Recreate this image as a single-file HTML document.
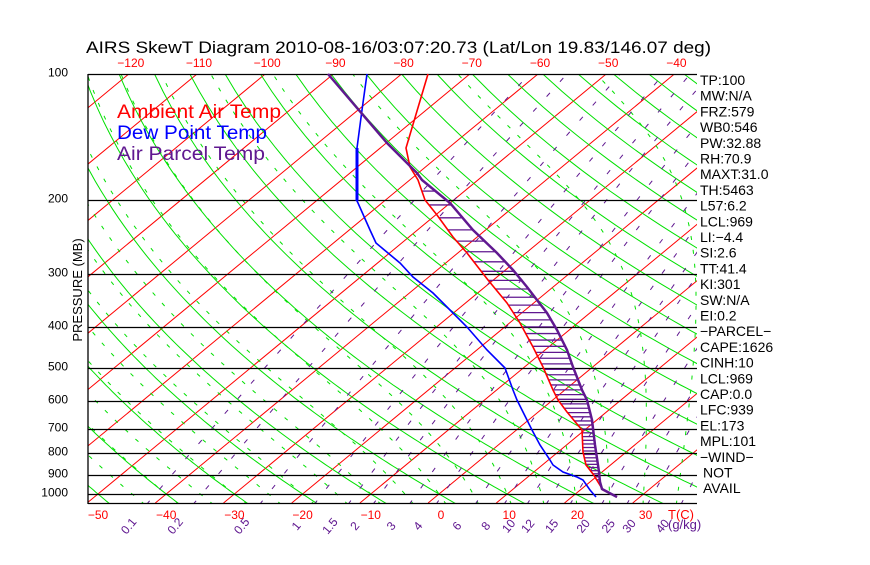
<!DOCTYPE html>
<html><head><meta charset="utf-8"><style>
html,body{margin:0;padding:0;background:#fff;}
svg text{font-family:"Liberation Sans",sans-serif;}
</style></head><body>
<svg id="s" width="870" height="560" xmlns="http://www.w3.org/2000/svg">
<defs><clipPath id="c"><rect x="88" y="74" width="609" height="429"/></clipPath></defs>
<g id="grid" clip-path="url(#c)"></g>
<g id="main"></g>
<text x="86" y="53" font-size="17" textLength="625" lengthAdjust="spacingAndGlyphs">AIRS SkewT Diagram 2010-08-16/03:07:20.73 (Lat/Lon 19.83/146.07 deg)</text>
<text x="117" y="118" font-size="19" fill="#ff0000" textLength="164" lengthAdjust="spacingAndGlyphs">Ambient Air Temp</text>
<text x="117" y="139" font-size="19" fill="#0000ff" textLength="150" lengthAdjust="spacingAndGlyphs">Dew Point Temp</text>
<text x="117" y="160" font-size="19" fill="#601890" textLength="148" lengthAdjust="spacingAndGlyphs">Air Parcel Temp</text>
<text transform="translate(82,290) rotate(-90)" font-size="13" text-anchor="middle">PRESSURE (MB)</text>
</svg>
<script>
var NS="http://www.w3.org/2000/svg";
var grid=document.getElementById('grid'),main=document.getElementById('main');
function el(p,tag,a,txt){var e=document.createElementNS(NS,tag);for(var k in a)e.setAttribute(k,a[k]);if(txt!==undefined)e.textContent=txt;p.appendChild(e);return e;}
function Y(p){return 494-182.4*Math.log(1000/p);}
function X(T,y){return 439+6.82*T+1.21*(494-y);}
var pts=function(a){return a.map(function(q){return q[0].toFixed(1)+','+q[1].toFixed(1)}).join(' ');};
for(var T=-140;T<=50;T+=10){el(grid,'line',{x1:X(T,503),y1:503,x2:X(T,74),y2:74,stroke:'#ff0000','stroke-width':1});}
for(var th=-60;th<=200;th+=10){var a=[];for(var p=1060;p>=95;p-=10){var Tk=(th+273.15)*Math.pow(p/1000,0.286);a.push([X(Tk-273.15,Y(p)),Y(p)]);}
el(grid,'polyline',{points:pts(a),fill:'none',stroke:'#00e000','stroke-width':1});}
function es(Tc){return 6.112*Math.exp(17.67*Tc/(Tc+243.5));}
for(var t0=-45;t0<=45;t0+=5){var Tk=t0+273.15,p=1000,a=[],b=[];
 var step=function(dir){var Tc=Tk-273.15;var rs=0.622*es(Tc)/(p-es(Tc));var num=287*Tk+2.5e6*rs;var den=1005+2.5e6*2.5e6*rs*0.622/(287*Tk*Tk);var dT=num/den;var dp=dir*2;Tk+=dT*dp/p;p+=dp;};
 var Tk0=Tk;
 while(p<1060){step(1);} b.push([X(Tk-273.15,Y(p)),Y(p)]);
 Tk=Tk0;p=1000;
 a.push([X(Tk-273.15,Y(p)),Y(p)]);
 while(p>100){step(-1);if(Math.round(p)%10==0)a.push([X(Tk-273.15,Y(p)),Y(p)]);}
 el(grid,'polyline',{points:pts(b.concat(a)),fill:'none',stroke:'#00e000','stroke-width':1,'stroke-dasharray':'4 10'});}
var ws=[0.1,0.2,0.5,1,1.5,2,3,4,6,8,10,12,15,20,25,30,40];
function Td(w,p){var e=w*p/(622+w);var l=Math.log(e/6.112);return 243.5*l/(17.67-l);}
ws.forEach(function(w){var a=[];for(var p=1060;p>=95;p-=20){a.push([X(Td(w,p),Y(p)),Y(p)]);}
 el(grid,'polyline',{points:pts(a),fill:'none',stroke:'#601890','stroke-width':1,'stroke-dasharray':'5 15'});
 var lx=X(Td(w,1050),503)-19;
 el(main,'text',{x:lx,y:530,'font-size':12,fill:'#601890','text-anchor':'middle',transform:'rotate(-50 '+lx+' 526)'},String(w));
});
el(main,'text',{x:668,y:529,'font-size':13,fill:'#601890'},'(g/kg)');
[100,200,300,400,500,600,700,800,900,1000].forEach(function(p){var y=Math.round(Y(p))+0.5;
 el(main,'line',{x1:88,y1:y,x2:697,y2:y,stroke:'#000','stroke-width':1.3});
 el(main,'text',{x:68,y:y+2,'font-size':12,'text-anchor':'end'},String(p));});
el(main,'line',{x1:88,y1:503.5,x2:697,y2:503.5,stroke:'#000','stroke-width':1.3});
el(main,'line',{x1:88,y1:74,x2:88,y2:504,stroke:'#000','stroke-width':1.3});
for(var T=-120;T<=-40;T+=10)el(main,'text',{x:X(T,74)+2,y:67,'font-size':12,fill:'#ff0000','text-anchor':'middle'},String(T).replace('-','\u2212'));
for(var T=-50;T<=30;T+=10)el(main,'text',{x:X(T,494)+(T<0?0:2),y:519,'font-size':12,fill:'#ff0000','text-anchor':'middle'},String(T).replace('-','\u2212'));
el(main,'text',{x:668,y:519,'font-size':13,fill:'#ff0000'},'T(C)');
var red=[[428,74],[406,148],[410,167],[418,180],[425,200],[437,215],[453,237],[467,253],[488,280],[507,303],[520,323],[533,347],[543,367],[553,390],[558,400],[567,412],[582,430],[583,452],[586,465],[593,474],[603,490],[617,497]];
var blue=[[367,74],[362,110],[357,148],[357,201],[358,203],[370,230],[376,243],[400,263],[413,277],[433,293],[453,313],[467,327],[487,350],[505,368],[513,390],[517,400],[527,420],[532,430],[540,445],[550,460],[553,465],[563,472],[577,477],[583,480],[590,490],[596,497]];
var pur=[[328,74],[387,143],[417,173],[422,180],[450,203],[473,230],[497,253],[513,270],[527,287],[537,300],[547,313],[557,330],[567,350],[573,367],[582,390],[587,400],[592,420],[595,445],[598,465],[599,472],[600,482],[602,489],[617,497]];
function ix(a,y){for(var i=0;i<a.length-1;i++){if(y>=a[i][1]&&y<=a[i+1][1]){var f=(y-a[i][1])/((a[i+1][1]-a[i][1])||1);return a[i][0]+f*(a[i+1][0]-a[i][0]);}}return null;}
for(var p=190;p<=965;p+=15){var y=Y(p);var xr=ix(red,y),xp=ix(pur,y);if(xr!==null&&xp!==null&&xp>xr+1)el(main,'line',{x1:xr,y1:y,x2:xp,y2:y,stroke:'#601890','stroke-width':1.3});}
el(main,'polyline',{points:pts(red),fill:'none',stroke:'#ff0000','stroke-width':1.6});
el(main,'polyline',{points:pts(blue),fill:'none',stroke:'#0000ff','stroke-width':1.6});
el(main,'line',{x1:357,y1:148,x2:357,y2:201,stroke:'#0000ff','stroke-width':3});
el(main,'polyline',{points:pts(pur),fill:'none',stroke:'#601890','stroke-width':2.5});
var L=['TP:100','MW:N/A','FRZ:579','WB0:546','PW:32.88','RH:70.9','MAXT:31.0','TH:5463','L57:6.2','LCL:969','LI:\u22124.4','SI:2.6','TT:41.4','KI:301','SW:N/A','EI:0.2','\u2212PARCEL\u2212','CAPE:1626','CINH:10','LCL:969','CAP:0.0','LFC:939','EL:173','MPL:101','\u2212WIND\u2212','NOT','AVAIL'];
L.forEach(function(t,i){el(main,'text',{x:(t=='NOT'||t=='AVAIL')?703:700,y:85+i*15.7,'font-size':14},t);});
</script>
</body></html>
